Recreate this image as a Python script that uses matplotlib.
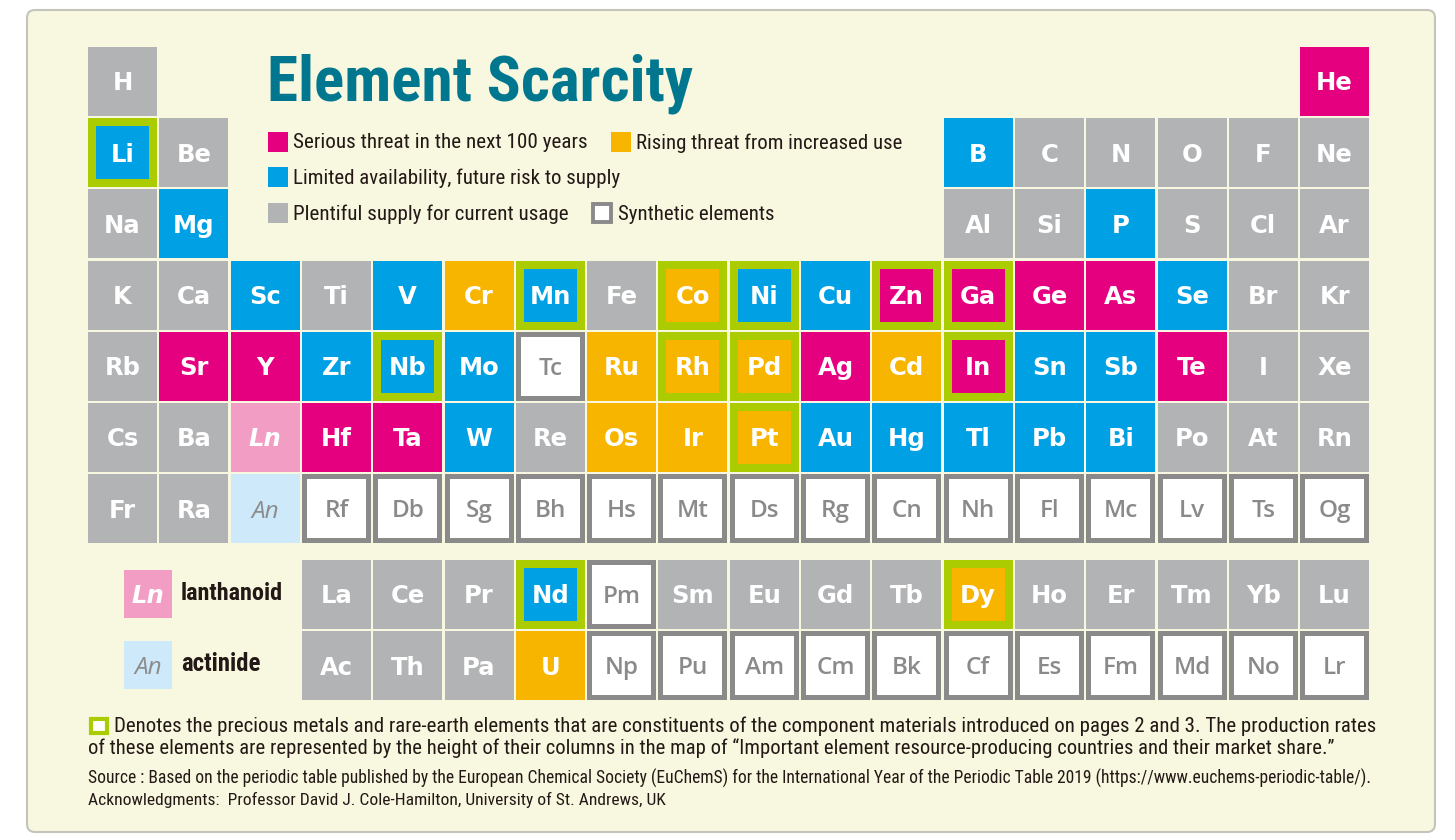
import os
import matplotlib
matplotlib.use("Agg")
import matplotlib.pyplot as plt
from matplotlib.patches import Rectangle, FancyBboxPatch
from matplotlib import font_manager
from matplotlib.font_manager import FontProperties

# ---------------- data ----------------
period_1 = ["H", "", "", "", "", "", "", "", "", "", "", "", "", "", "", "", "", "He"]
period_2 = ["Li", "Be", "", "", "", "", "", "", "", "", "", "", "B", "C", "N", "O", "F", "Ne"]
period_3 = ["Na", "Mg", "", "", "", "", "", "", "", "", "", "", "Al", "Si", "P", "S", "Cl", "Ar"]
period_4 = ["K", "Ca", "Sc", "Ti", "V", "Cr", "Mn", "Fe", "Co", "Ni", "Cu", "Zn", "Ga", "Ge", "As", "Se", "Br", "Kr"]
period_5 = ["Rb", "Sr", "Y", "Zr", "Nb", "Mo", "Tc", "Ru", "Rh", "Pd", "Ag", "Cd", "In", "Sn", "Sb", "Te", "I", "Xe"]
period_6 = ["Cs", "Ba", "Ln", "Hf", "Ta", "W", "Re", "Os", "Ir", "Pt", "Au", "Hg", "Tl", "Pb", "Bi", "Po", "At", "Rn"]
period_7 = ["Fr", "Ra", "An", "Rf", "Db", "Sg", "Bh", "Hs", "Mt", "Ds", "Rg", "Cn", "Nh", "Fl", "Mc", "Lv", "Ts", "Og"]
lanthanoids = ["La", "Ce", "Pr", "Nd", "Pm", "Sm", "Eu", "Gd", "Tb", "Dy", "Ho", "Er", "Tm", "Yb", "Lu"]
actinides = ["Ac", "Th", "Pa", "U", "Np", "Pu", "Am", "Cm", "Bk", "Cf", "Es", "Fm", "Md", "No", "Lr"]

serious = ["He", "Zn", "Ga", "Ge", "As", "Sr", "Y", "Ag", "In", "Te", "Hf", "Ta"]
rising = ["Cr", "Co", "Ru", "Rh", "Pd", "Cd", "Os", "Ir", "Pt", "Dy", "U"]
limited = ["Li", "Mg", "B", "P", "Sc", "V", "Mn", "Ni", "Cu", "Se", "Zr", "Nb", "Mo",
           "Sn", "Sb", "W", "Au", "Hg", "Tl", "Pb", "Bi", "Nd"]
synthetic = ["Tc", "Pm", "Rf", "Db", "Sg", "Bh", "Hs", "Mt", "Ds", "Rg", "Cn", "Nh", "Fl",
             "Mc", "Lv", "Ts", "Og", "Np", "Pu", "Am", "Cm", "Bk", "Cf", "Es", "Fm", "Md", "No", "Lr"]
component = ["Li", "Mn", "Co", "Ni", "Zn", "Ga", "Nb", "Rh", "Pd", "In", "Pt", "Nd", "Dy"]

legend_labels = ["Serious threat in the next 100 years", "Rising threat from increased use",
                 "Limited availability, future risk to supply", "Plentiful supply for current usage",
                 "Synthetic elements"]
footnotes = [
    "Denotes the precious metals and rare-earth elements that are constituents of the component "
    "materials introduced on pages 2 and 3. The production rates",
    "of these elements are represented by the height of their columns in the map of "
    "\u201cImportant element resource-producing countries and their market share.\u201d",
    "Source : Based on the periodic table published by the European Chemical Society (EuChemS) "
    "for the International Year of the Periodic Table 2019 (https://www.euchems-periodic-table/).",
    "Acknowledgments:  Professor David J. Cole-Hamilton, University of St. Andrews, UK",
]

PINK = "#E4007F"
ORANGE = "#F8B500"
BLUE = "#00A0E4"
GRAY = "#B2B3B5"
GREEN = "#AACC00"
SYN_EDGE = "#8A8A8A"
LN_COL = "#F29EC4"
AN_COL = "#CEE9F9"
TEXT = "#231815"
TITLE = "#00778F"
PANEL = "#F8F8E0"


def condensed_font(bold):
    entries = [(os.path.basename(f.fname).lower(), f.fname) for f in font_manager.fontManager.ttflist]
    keys = ["liberationsansnarrow", "robotocondensed", "notosans-condensed",
            "dejavusanscondensed", "opensanscondensed", "opensans-condensed"]
    for key in keys:
        for low, path in entries:
            if not low.startswith(key) or "italic" in low or "oblique" in low:
                continue
            rest = low[len(key):].split(".")[0].strip("-_")
            if bold and rest == "bold":
                return FontProperties(fname=path)
            if not bold and rest in ("", "regular"):
                return FontProperties(fname=path)
    return FontProperties(family="DejaVu Sans", weight="bold" if bold else "normal")


NARROW = condensed_font(False)
NARROW_B = condensed_font(True)
names = {f.name for f in font_manager.fontManager.ttflist}
SYN_FONT = "Open Sans" if "Open Sans" in names else "DejaVu Sans"

# ---------------- layout ----------------
X0, Y0 = 88, 47
PX, PY = 71.3, 71.2
CELL = 69
F_GAP = 14.6

fig = plt.figure(figsize=(14.55, 8.40), dpi=100)
ax = fig.add_axes([0, 0, 1, 1])
ax.set_xlim(0, 1455)
ax.set_ylim(840, 0)
ax.axis("off")
renderer = fig.canvas.get_renderer()

ax.add_patch(FancyBboxPatch((27, 10), 1408, 822, boxstyle="round,pad=0,rounding_size=8",
                            fc=PANEL, ec="#C4C4BC", lw=1.5, zorder=0))


def fitted_text(x, y, s, width, prop, va="center", **kw):
    t = ax.text(x, y, s, fontproperties=prop.copy(), va=va, ha="left", **kw)
    t.set_fontsize(20)
    w = t.get_window_extent(renderer=renderer).width
    t.set_fontsize(20 * width / w)
    return t


FS = 17.5
CAP = 0.729 * FS * 100 / 72
SFS = 17.5


def fill_of(sym):
    if sym in serious:
        return PINK
    if sym in rising:
        return ORANGE
    if sym in limited:
        return BLUE
    return GRAY


def draw_cell(x, y, sym):
    cx, cy = x + CELL / 2, y + CELL / 2
    if sym in synthetic:
        ax.add_patch(Rectangle((x, y), CELL, CELL, fc=SYN_EDGE, ec="none"))
        ax.add_patch(Rectangle((x + 5, y + 5), CELL - 10, CELL - 10, fc="white", ec="none"))
        ax.text(cx, cy + 0.714 * SFS * 100 / 72 / 2, sym, ha="center", va="baseline",
                fontsize=SFS, color=SYN_EDGE, family=SYN_FONT, weight="semibold")
        return
    if sym == "Ln":
        ax.add_patch(Rectangle((x, y), CELL, CELL, fc=LN_COL, ec="none"))
        ax.text(cx, cy + CAP / 2, sym, ha="center", va="baseline", fontsize=FS,
                color="white", weight="bold", style="italic")
        return
    if sym == "An":
        ax.add_patch(Rectangle((x, y), CELL, CELL, fc=AN_COL, ec="none"))
        ax.text(cx, cy + CAP / 2, sym, ha="center", va="baseline", fontsize=FS,
                color="#8C8C8C", style="italic", family=SYN_FONT)
        return
    if sym in component:
        ax.add_patch(Rectangle((x, y), CELL, CELL, fc=GREEN, ec="none"))
        ax.add_patch(Rectangle((x + 8, y + 8), CELL - 16, CELL - 16, fc=fill_of(sym), ec="none"))
    else:
        ax.add_patch(Rectangle((x, y), CELL, CELL, fc=fill_of(sym), ec="none"))
    ax.text(cx, cy + CAP / 2, sym, ha="center", va="baseline", fontsize=FS,
            color="white", weight="bold")


for r, row in enumerate([period_1, period_2, period_3, period_4, period_5, period_6, period_7]):
    for c, sym in enumerate(row):
        if sym:
            draw_cell(X0 + c * PX, Y0 + r * PY, sym)

for r, row in enumerate([lanthanoids, actinides]):
    for c, sym in enumerate(row):
        draw_cell(X0 + (c + 3) * PX, Y0 + 7 * PY + F_GAP + r * PY, sym)

# ---------------- title & legend ----------------
fitted_text(267, 100, "Element Scarcity", 425, NARROW_B, va="baseline", color=TITLE)

legend_items = [(268, 142, PINK, legend_labels[0], 293), (611, 142, ORANGE, legend_labels[1], 266),
                (268, 177, BLUE, legend_labels[2], 326), (268, 213, GRAY, legend_labels[3], 274)]
for x, y, col, lab, w in legend_items:
    ax.add_patch(Rectangle((x, y - 10), 20, 20, fc=col, ec="none"))
    fitted_text(x + 25, y + 1, lab, w, NARROW, color=TEXT)
ax.add_patch(Rectangle((593, 204), 18, 18, fc="white", ec=SYN_EDGE, lw=2.8))
fitted_text(618, 214, legend_labels[4], 156, NARROW, color=TEXT)

# Ln / An key
ax.add_patch(Rectangle((124, 570), 48, 48, fc=LN_COL, ec="none"))
ax.text(148, 594 + CAP / 2, "Ln", ha="center", va="baseline", fontsize=FS, color="white",
        weight="bold", style="italic")
fitted_text(181, 594, "lanthanoid", 102, NARROW_B, color=TEXT)
ax.add_patch(Rectangle((124, 641), 48, 48, fc=AN_COL, ec="none"))
ax.text(148, 665 + CAP / 2, "An", ha="center", va="baseline", fontsize=FS, color="#8C8C8C",
        style="italic", family=SYN_FONT)
fitted_text(181, 664, "actinide", 79, NARROW_B, color=TEXT)

# ---------------- footnotes ----------------
ax.add_patch(Rectangle((91, 719), 16, 14, fc="white", ec=GREEN, lw=3))
fitted_text(114, 726, footnotes[0], 1260, NARROW, color=TEXT)
fitted_text(88, 748, footnotes[1], 1240, NARROW, color=TEXT)
fitted_text(88, 778, footnotes[2], 1280, NARROW, color=TEXT)
fitted_text(88, 800, footnotes[3], 575, NARROW, color=TEXT)

fig.savefig("out.png", dpi=100, facecolor="white")
